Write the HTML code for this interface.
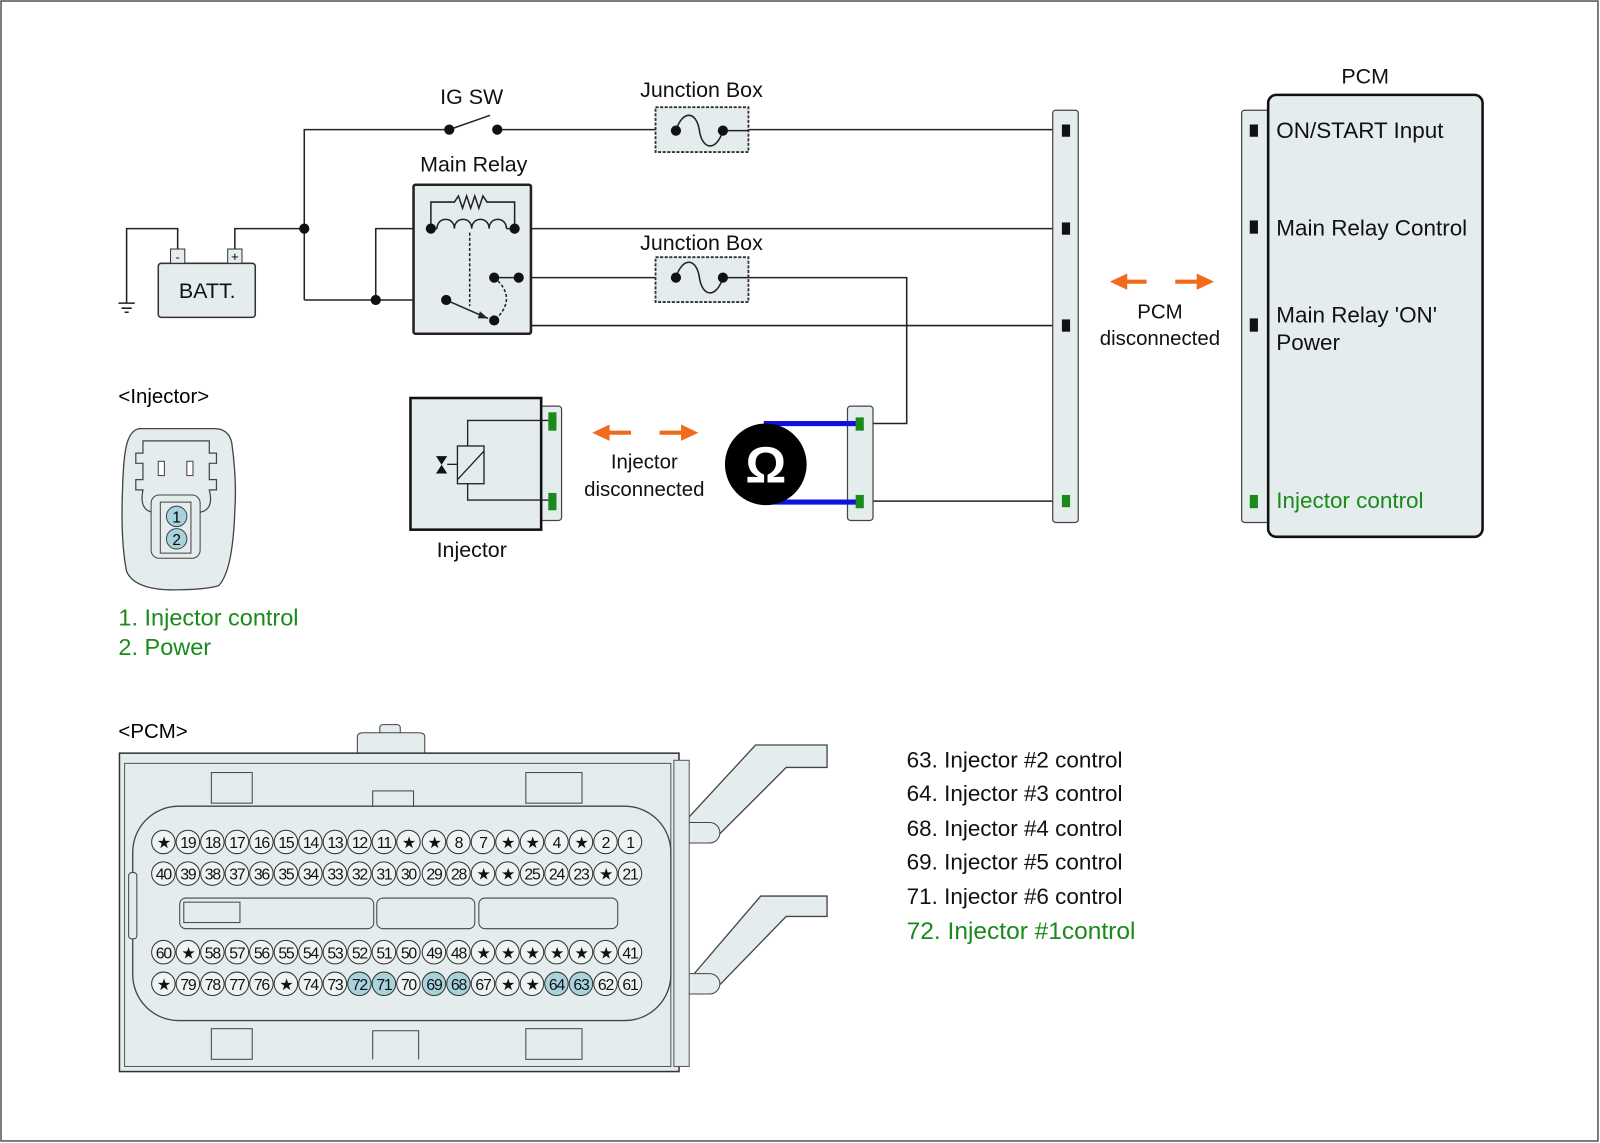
<!DOCTYPE html>
<html><head><meta charset="utf-8"><style>
html,body{margin:0;padding:0;background:#fff;}
svg{display:block;font-family:"Liberation Sans",sans-serif;}
</style></head><body>
<svg width="1600" height="1143" viewBox="0 0 1567 1120" preserveAspectRatio="none">
<rect x="1" y="1" width="1564" height="1117" fill="#fff" stroke="#555" stroke-width="1.5"/>
<!-- wires -->
<g stroke="#222" stroke-width="1.5" fill="none">
<path d="M298 294V127H440M487 127H1040"/>
<path d="M440 127L480 113"/>
<path d="M230 244V224H298"/>
<path d="M174 244V224H124V297"/>
<path d="M116 297H132M119 302H129M122 306H126"/>
<path d="M298 294H437"/>
<path d="M368 294V224H422"/>
<path d="M504 224H1040"/>
<path d="M484 272H888V415H846"/>
<path d="M508 272V319H1040"/>
<path d="M846 491H1040"/>
</g>
<!-- battery -->
<rect x="155" y="258" width="95" height="53" rx="3" fill="#e4ecee" stroke="#333" stroke-width="1.5"/>
<rect x="167" y="244" width="14" height="14" fill="#e4ecee" stroke="#333"/>
<rect x="223" y="244" width="14" height="14" fill="#e4ecee" stroke="#333"/>
<text x="174" y="256" font-size="12" text-anchor="middle">-</text>
<text x="230" y="256" font-size="13" text-anchor="middle">+</text>
<!-- junction boxes -->
<rect x="642" y="105" width="91" height="44" fill="#e4ecee" stroke="#333" stroke-width="1.8" stroke-dasharray="3,1.5"/>
<rect x="642" y="252" width="91" height="44" fill="#e4ecee" stroke="#333" stroke-width="1.8" stroke-dasharray="3,1.5"/>
<g stroke="#222" stroke-width="1.5" fill="none">
<path d="M708 128H733"/><path d="M708 272H733"/>
<path d="M662 128C668 108 682 108 685 128C688 148 702 148 708 128"/>
<path d="M662 272C668 252 682 252 685 272C688 292 702 292 708 272"/>
</g>
<!-- main relay -->
<rect x="405" y="181" width="115" height="146" rx="2" fill="#e4ecee" stroke="#222" stroke-width="2.5"/>
<g stroke="#222" stroke-width="1.5" fill="none">
<path d="M422 224V198H445L449 192L453 204L457 192L461 204L465 192L469 204L473 192L477 198H504V224"/>
<path d="M422 224H428M496 224H504"/>
<path d="M428 224C428 212 445 212 445 224C445 212 462 212 462 224C462 212 479 212 479 224C479 212 496 212 496 224"/>
<path d="M460 228V300" stroke-dasharray="3,2"/>
<path d="M437 294L478 312"/>
<path d="M484 272C500 285 500 300 484 314" stroke-dasharray="3,2"/>
<path d="M484 272H508"/>
</g>
<path d="M478 312L470 305L468 312Z" fill="#222"/>
<g fill="#111">
<circle cx="298" cy="224" r="5"/><circle cx="368" cy="294" r="5"/><circle cx="437" cy="294" r="5"/>
<circle cx="422" cy="224" r="5"/><circle cx="504" cy="224" r="5"/><circle cx="484" cy="272" r="5"/><circle cx="508" cy="272" r="5"/><circle cx="484" cy="314" r="5"/>
<circle cx="440" cy="127" r="5"/><circle cx="487" cy="127" r="5"/>
<circle cx="662" cy="128" r="5"/><circle cx="708" cy="128" r="5"/><circle cx="662" cy="272" r="5"/><circle cx="708" cy="272" r="5"/>
</g>
<g font-size="21" fill="#111" text-anchor="middle">
<text x="462" y="102">IG SW</text>
<text x="687" y="95">Junction Box</text>
<text x="464" y="168">Main Relay</text>
<text x="687" y="245">Junction Box</text>
<text x="203" y="292">BATT.</text>
<text x="462" y="546">Injector</text>
<text x="631" y="459" font-size="20">Injector</text>
<text x="631" y="486" font-size="20">disconnected</text>
<text x="1136" y="312" font-size="20">PCM</text>
<text x="1136" y="338" font-size="20">disconnected</text>
<text x="1337" y="82">PCM</text>
</g>
<!-- connector strip -->
<rect x="1031" y="108" width="25" height="404" rx="3" fill="#e4ecee" stroke="#444" stroke-width="1.2"/>
<rect x="1040" y="122" width="8" height="12" fill="#111"/>
<rect x="1040" y="218" width="8" height="12" fill="#111"/>
<rect x="1040" y="313" width="8" height="12" fill="#111"/>
<rect x="1040" y="485" width="8" height="12" fill="#1a8a1a"/>
<!-- PCM box -->
<rect x="1216" y="108" width="30" height="404" rx="3" fill="#e4ecee" stroke="#444" stroke-width="1.2"/>
<rect x="1242" y="93" width="210" height="433" rx="8" fill="#e4ecee" stroke="#111" stroke-width="2.5"/>
<rect x="1224" y="122" width="8" height="12" fill="#111"/>
<rect x="1224" y="216" width="8" height="13" fill="#111"/>
<rect x="1224" y="312" width="8" height="13" fill="#111"/>
<rect x="1224" y="485" width="8" height="13" fill="#1a8a1a"/>
<g font-size="22" fill="#111">
<text x="1250" y="135">ON/START Input</text>
<text x="1250" y="231">Main Relay Control</text>
<text x="1250" y="316">Main Relay 'ON'</text>
<text x="1250" y="343">Power</text>
<text x="1250" y="498" fill="#1a8a1a">Injector control</text>
</g>
<!-- orange arrows -->
<g stroke="#f26b1d" stroke-width="4" fill="none">
<path d="M594 424H618M646 424H672"/>
<path d="M1101 276H1123M1151 276H1176"/>
</g>
<g fill="#f26b1d">
<path d="M580 424L597 416V432Z"/><path d="M684 424L667 416V432Z"/>
<path d="M1087 276L1104 268V284Z"/><path d="M1189 276L1172 268V284Z"/>
</g>
<!-- injector -->
<rect x="526" y="398" width="24" height="112" rx="3" fill="#e4ecee" stroke="#444" stroke-width="1.2"/>
<rect x="402" y="390" width="128" height="129" fill="#e4ecee" stroke="#111" stroke-width="2.5"/>
<rect x="537" y="404" width="8" height="18" fill="#1a8a1a"/>
<rect x="537" y="483" width="8" height="17" fill="#1a8a1a"/>
<g stroke="#222" stroke-width="1.3" fill="none">
<path d="M537 412H458V437M458 474V490H537"/>
<rect x="448" y="437" width="26" height="37" fill="#e4ecee"/>
<path d="M448 470L474 442"/>
<path d="M438 455H448"/>
</g>
<path d="M427 447H438L427 464H438Z" fill="#111"/>
<!-- ohm -->
<rect x="830" y="398" width="25" height="112" rx="3" fill="#e4ecee" stroke="#444" stroke-width="1.2"/>
<path d="M748 415H840M748 492H840" stroke="#1010e0" stroke-width="5"/>
<circle cx="750" cy="455" r="40" fill="#000"/>
<text x="750" y="473" font-size="50" font-weight="bold" fill="#fff" text-anchor="middle">Ω</text>
<rect x="838" y="409" width="8" height="13" fill="#1a8a1a"/>
<rect x="838" y="485" width="8" height="13" fill="#1a8a1a"/>
<!-- injector connector drawing -->
<text x="116" y="395" font-size="20">&lt;Injector&gt;</text>
<path d="M138 420H210Q224 420 227 434Q232 470 230 500Q228 560 214 574Q200 578 170 578Q132 578 124 560Q118 530 120 480Q121 440 126 430Q130 420 138 420Z" fill="#e4ecee" stroke="#444" stroke-width="1.3"/>
<path d="M140 432H205V444H212V454H205V470H212V480H205Q210 500 195 502H150Q136 500 140 480H133V470H140V454H133V444H140Z" fill="#e4ecee" stroke="#444" stroke-width="1.2"/>
<rect x="155" y="452" width="6" height="14" fill="#fff" stroke="#444"/>
<rect x="183" y="452" width="6" height="14" fill="#fff" stroke="#444"/>
<rect x="148" y="485" width="48" height="62" rx="8" fill="#e4ecee" stroke="#444"/>
<rect x="157" y="492" width="30" height="50" fill="#e4ecee" stroke="#444"/>
<circle cx="173" cy="506" r="10" fill="#a9d3dc" stroke="#444"/>
<circle cx="173" cy="528" r="10" fill="#a9d3dc" stroke="#444"/>
<text x="173" y="512" font-size="15" text-anchor="middle">1</text>
<text x="173" y="534" font-size="15" text-anchor="middle">2</text>
<text x="116" y="613" font-size="23" fill="#1a8a1a">1. Injector control</text>
<text x="116" y="642" font-size="23" fill="#1a8a1a">2. Power</text>
<!-- PCM connector -->
<text x="116" y="723" font-size="20">&lt;PCM&gt;</text>
<rect x="372" y="710" width="20" height="20" rx="3" fill="#e4ecee" stroke="#444"/>
<path d="M350 738V722Q350 718 356 718H410Q416 718 416 722V738Z" fill="#e4ecee" stroke="#444"/>
<path d="M668 808L740 730H810V752H770L700 822ZM668 968L745 878H810V898H770L700 970Z" fill="#e4ecee" stroke="#444" stroke-width="1.3"/>
<rect x="655" y="806" width="50" height="20" rx="10" fill="#e4ecee" stroke="#444"/>
<rect x="655" y="954" width="50" height="20" rx="10" fill="#e4ecee" stroke="#444"/>
<rect x="117" y="738" width="548" height="312" fill="#e4ecee" stroke="#333" stroke-width="1.5"/>
<rect x="122" y="748" width="535" height="297" fill="#e4ecee" stroke="#555"/>
<rect x="660" y="745" width="15" height="300" fill="#e4ecee" stroke="#555"/>
<rect x="207" y="757" width="40" height="30" fill="#e4ecee" stroke="#444"/>
<rect x="207" y="1008" width="40" height="30" fill="#e4ecee" stroke="#444"/>
<rect x="515" y="757" width="55" height="30" fill="#e4ecee" stroke="#444"/>
<rect x="515" y="1008" width="55" height="30" fill="#e4ecee" stroke="#444"/>
<rect x="365" y="775" width="40" height="18" fill="#e4ecee" stroke="#444"/>
<rect x="130" y="790" width="527" height="210" rx="45" fill="#e4ecee" stroke="#444" stroke-width="1.3"/>
<rect x="126" y="855" width="8" height="65" rx="3" fill="#e4ecee" stroke="#444"/>
<path d="M365 1038V1010H410V1038" fill="#e4ecee" stroke="#444"/>
<rect x="176" y="880" width="190" height="30" rx="6" fill="#e4ecee" stroke="#444"/>
<rect x="180" y="884" width="55" height="20" fill="#e4ecee" stroke="#444"/>
<rect x="369" y="880" width="96" height="30" rx="6" fill="#e4ecee" stroke="#444"/>
<rect x="469" y="880" width="136" height="30" rx="6" fill="#e4ecee" stroke="#444"/>
<g stroke="#333" stroke-width="1" fill="#eef3f4">
<g transform="translate(0,825)">
<circle cx="160" cy="0" r="11.5"/><circle cx="184" cy="0" r="11.5"/><circle cx="208" cy="0" r="11.5"/><circle cx="232" cy="0" r="11.5"/><circle cx="256" cy="0" r="11.5"/><circle cx="280" cy="0" r="11.5"/><circle cx="304" cy="0" r="11.5"/><circle cx="328" cy="0" r="11.5"/><circle cx="352" cy="0" r="11.5"/><circle cx="376" cy="0" r="11.5"/><circle cx="400" cy="0" r="11.5"/><circle cx="425" cy="0" r="11.5"/><circle cx="449" cy="0" r="11.5"/><circle cx="473" cy="0" r="11.5"/><circle cx="497" cy="0" r="11.5"/><circle cx="521" cy="0" r="11.5"/><circle cx="545" cy="0" r="11.5"/><circle cx="569" cy="0" r="11.5"/><circle cx="593" cy="0" r="11.5"/><circle cx="617" cy="0" r="11.5"/>
</g>
<g transform="translate(0,856)">
<circle cx="160" cy="0" r="11.5"/><circle cx="184" cy="0" r="11.5"/><circle cx="208" cy="0" r="11.5"/><circle cx="232" cy="0" r="11.5"/><circle cx="256" cy="0" r="11.5"/><circle cx="280" cy="0" r="11.5"/><circle cx="304" cy="0" r="11.5"/><circle cx="328" cy="0" r="11.5"/><circle cx="352" cy="0" r="11.5"/><circle cx="376" cy="0" r="11.5"/><circle cx="400" cy="0" r="11.5"/><circle cx="425" cy="0" r="11.5"/><circle cx="449" cy="0" r="11.5"/><circle cx="473" cy="0" r="11.5"/><circle cx="497" cy="0" r="11.5"/><circle cx="521" cy="0" r="11.5"/><circle cx="545" cy="0" r="11.5"/><circle cx="569" cy="0" r="11.5"/><circle cx="593" cy="0" r="11.5"/><circle cx="617" cy="0" r="11.5"/>
</g>
<g transform="translate(0,933)">
<circle cx="160" cy="0" r="11.5"/><circle cx="184" cy="0" r="11.5"/><circle cx="208" cy="0" r="11.5"/><circle cx="232" cy="0" r="11.5"/><circle cx="256" cy="0" r="11.5"/><circle cx="280" cy="0" r="11.5"/><circle cx="304" cy="0" r="11.5"/><circle cx="328" cy="0" r="11.5"/><circle cx="352" cy="0" r="11.5"/><circle cx="376" cy="0" r="11.5"/><circle cx="400" cy="0" r="11.5"/><circle cx="425" cy="0" r="11.5"/><circle cx="449" cy="0" r="11.5"/><circle cx="473" cy="0" r="11.5"/><circle cx="497" cy="0" r="11.5"/><circle cx="521" cy="0" r="11.5"/><circle cx="545" cy="0" r="11.5"/><circle cx="569" cy="0" r="11.5"/><circle cx="593" cy="0" r="11.5"/><circle cx="617" cy="0" r="11.5"/>
</g>
<g transform="translate(0,964)">
<circle cx="160" cy="0" r="11.5"/><circle cx="184" cy="0" r="11.5"/><circle cx="208" cy="0" r="11.5"/><circle cx="232" cy="0" r="11.5"/><circle cx="256" cy="0" r="11.5"/><circle cx="280" cy="0" r="11.5"/><circle cx="304" cy="0" r="11.5"/><circle cx="328" cy="0" r="11.5"/><circle cx="352" cy="0" r="11.5" fill="#a9d3dc"/><circle cx="376" cy="0" r="11.5" fill="#a9d3dc"/><circle cx="400" cy="0" r="11.5"/><circle cx="425" cy="0" r="11.5" fill="#a9d3dc"/><circle cx="449" cy="0" r="11.5" fill="#a9d3dc"/><circle cx="473" cy="0" r="11.5"/><circle cx="497" cy="0" r="11.5"/><circle cx="521" cy="0" r="11.5"/><circle cx="545" cy="0" r="11.5" fill="#a9d3dc"/><circle cx="569" cy="0" r="11.5" fill="#a9d3dc"/><circle cx="593" cy="0" r="11.5"/><circle cx="617" cy="0" r="11.5"/>
</g>
</g>
<g font-size="15.5" fill="#111" text-anchor="middle" letter-spacing="-1.2">
<text y="831"><tspan x="160">★</tspan><tspan x="184">19</tspan><tspan x="208">18</tspan><tspan x="232">17</tspan><tspan x="256">16</tspan><tspan x="280">15</tspan><tspan x="304">14</tspan><tspan x="328">13</tspan><tspan x="352">12</tspan><tspan x="376">11</tspan><tspan x="400">★</tspan><tspan x="425">★</tspan><tspan x="449">8</tspan><tspan x="473">7</tspan><tspan x="497">★</tspan><tspan x="521">★</tspan><tspan x="545">4</tspan><tspan x="569">★</tspan><tspan x="593">2</tspan><tspan x="617">1</tspan></text>
<text y="862"><tspan x="160">40</tspan><tspan x="184">39</tspan><tspan x="208">38</tspan><tspan x="232">37</tspan><tspan x="256">36</tspan><tspan x="280">35</tspan><tspan x="304">34</tspan><tspan x="328">33</tspan><tspan x="352">32</tspan><tspan x="376">31</tspan><tspan x="400">30</tspan><tspan x="425">29</tspan><tspan x="449">28</tspan><tspan x="473">★</tspan><tspan x="497">★</tspan><tspan x="521">25</tspan><tspan x="545">24</tspan><tspan x="569">23</tspan><tspan x="593">★</tspan><tspan x="617">21</tspan></text>
<text y="939"><tspan x="160">60</tspan><tspan x="184">★</tspan><tspan x="208">58</tspan><tspan x="232">57</tspan><tspan x="256">56</tspan><tspan x="280">55</tspan><tspan x="304">54</tspan><tspan x="328">53</tspan><tspan x="352">52</tspan><tspan x="376">51</tspan><tspan x="400">50</tspan><tspan x="425">49</tspan><tspan x="449">48</tspan><tspan x="473">★</tspan><tspan x="497">★</tspan><tspan x="521">★</tspan><tspan x="545">★</tspan><tspan x="569">★</tspan><tspan x="593">★</tspan><tspan x="617">41</tspan></text>
<text y="970"><tspan x="160">★</tspan><tspan x="184">79</tspan><tspan x="208">78</tspan><tspan x="232">77</tspan><tspan x="256">76</tspan><tspan x="280">★</tspan><tspan x="304">74</tspan><tspan x="328">73</tspan><tspan x="352">72</tspan><tspan x="376">71</tspan><tspan x="400">70</tspan><tspan x="425">69</tspan><tspan x="449">68</tspan><tspan x="473">67</tspan><tspan x="497">★</tspan><tspan x="521">★</tspan><tspan x="545">64</tspan><tspan x="569">63</tspan><tspan x="593">62</tspan><tspan x="617">61</tspan></text>
</g>
<g font-size="22" fill="#111">
<text x="888" y="752">63. Injector #2 control</text>
<text x="888" y="785">64. Injector #3 control</text>
<text x="888" y="819">68. Injector #4 control</text>
<text x="888" y="852">69. Injector #5 control</text>
<text x="888" y="886">71. Injector #6 control</text>
<text x="888" y="920" font-size="24" fill="#1a8a1a">72. Injector #1control</text>
</g>
</svg>
</body></html>
